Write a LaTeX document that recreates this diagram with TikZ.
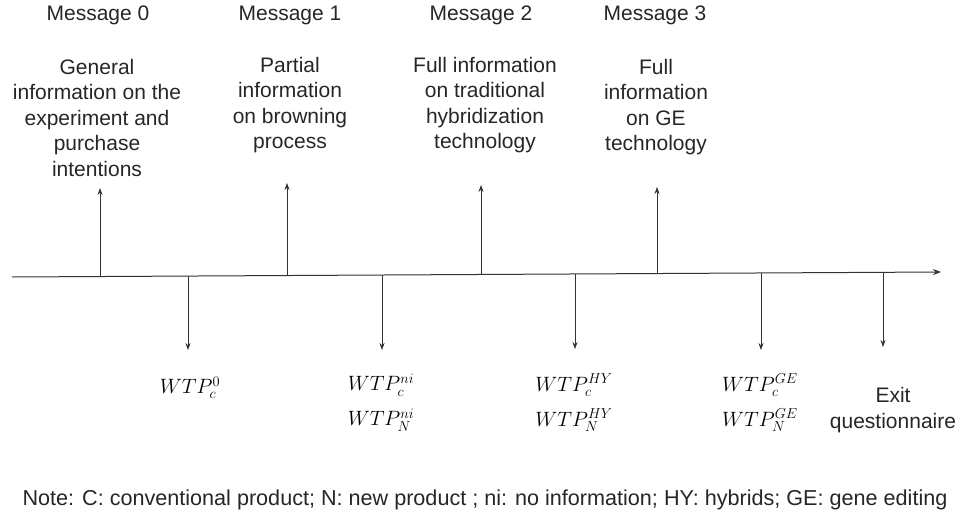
\documentclass[tikz,border=0pt]{standalone}
\usepackage{fontspec}
\setmainfont{Liberation Sans}
\usetikzlibrary{arrows.meta}
\begin{document}
\begin{tikzpicture}[x=1pt,y=-1pt,
  txt/.style={inner sep=0pt,align=center,text=black!85,font=\fontsize{21}{25.5}\selectfont},
  mth/.style={inner sep=0pt,font=\fontsize{20}{24}\selectfont},
  axisline/.style={line width=1pt,draw=black!80,-{Stealth[length=8pt,width=6pt]}},
  tick/.style={line width=0.8pt,draw=black!80,-{Stealth[length=7pt,width=5pt]}}]
\useasboundingbox (0,0) rectangle (959,530);
% axis
\coordinate (L) at (12,277);
\coordinate (R) at (941,272);
\draw[axisline] (L) -- (R);
% up arrows
\coordinate (u0) at (100,276.5); \coordinate (u0t) at (100,188);
\coordinate (u1) at (287,275.5); \coordinate (u1t) at (287,183);
\coordinate (u2) at (481,274.5); \coordinate (u2t) at (481,185);
\coordinate (u3) at (657,273.5); \coordinate (u3t) at (657,187);
\foreach \i in {0,1,2,3} \draw[tick] (u\i) -- (u\i t);
% down arrows
\coordinate (d0) at (188,276); \coordinate (d0t) at (188,350);
\coordinate (d1) at (382,275); \coordinate (d1t) at (382,350);
\coordinate (d2) at (575,274); \coordinate (d2t) at (575,349);
\coordinate (d3) at (761,273); \coordinate (d3t) at (761,350);
\coordinate (d4) at (883,272.3); \coordinate (d4t) at (883,347);
\foreach \i in {0,1,2,3,4} \draw[tick] (d\i) -- (d\i t);
% message titles
\node[txt] (m0) at (98,15) {Message 0};
\node[txt] (m1) at (290,15) {Message 1};
\node[txt] (m2) at (481,15) {Message 2};
\node[txt] (m3) at (655,15) {Message 3};
% descriptions
\node[txt] (t0) at (97,117.5) {General\\information on the\\experiment and\\purchase\\intentions};
\node[txt] (t1) at (290,105) {Partial\\information\\on browning\\process};
\node[txt] (t2) at (485,105) {Full information\\on traditional\\hybridization\\technology};
\node[txt] (t3) at (656,107) {Full\\information\\on GE\\technology};
% WTP labels
\node[mth] (w0) at (190,388) {$WTP_c^{0}$};
\node[mth] (w1c) at (381,385) {$WTP_c^{ni}$};
\node[mth] (w1n) at (381,420) {$WTP_N^{ni}$};
\node[mth] (w2c) at (574,385) {$WTP_c^{HY}$};
\node[mth] (w2n) at (574,420) {$WTP_N^{HY}$};
\node[mth] (w3c) at (760,385) {$WTP_c^{GE}$};
\node[mth] (w3n) at (760,420) {$WTP_N^{GE}$};
\node[txt] (ex) at (893,410) {Exit\\questionnaire};
% note
\node[txt,font=\fontsize{21.6}{26}\selectfont] (note) at (485,500) {Note: C: conventional product; N: new product ; ni: no information; HY: hybrids; GE: gene editing};
\end{tikzpicture}
\end{document}
